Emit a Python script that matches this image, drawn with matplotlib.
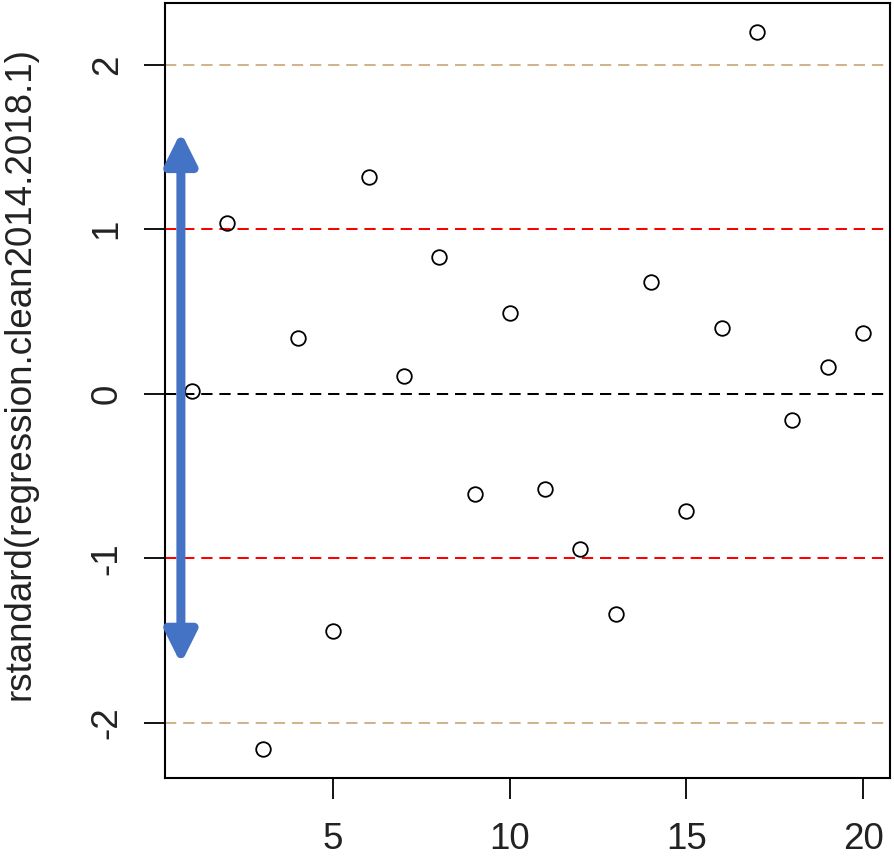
import matplotlib
matplotlib.use("Agg")
import matplotlib.pyplot as plt

index = list(range(1, 21))
rstd = [0.02, 1.04, -2.16, 0.34, -1.44, 1.32, 0.11, 0.83, -0.61, 0.49,
        -0.58, -0.94, -1.34, 0.68, -0.71, 0.40, 2.20, -0.16, 0.16, 0.37]
xticks = [5, 10, 15, 20]
yticks = [-2, -1, 0, 1, 2]
ref_lines = [(2, "tan"), (1, "red"), (0, "black"), (-1, "red"), (-2, "tan")]
arrow_x = 0.69
arrow_y = (-1.64, 1.59)

plt.rcParams['font.family'] = ['Liberation Sans', 'DejaVu Sans']
fig = plt.figure(figsize=(8.94, 8.58), dpi=100)
ax = fig.add_axes([165/894, 80/858, 725/894, 775/858])

for y, c in ref_lines:
    ax.axhline(y, color=c, linestyle=(0, (5.6, 3.4)), linewidth=1.45, zorder=1)

ax.plot(index, rstd, linestyle='none', marker='o', markersize=10.5,
        markerfacecolor='none', markeredgecolor='black', markeredgewidth=1.3, zorder=3)

ax.annotate('', xy=(arrow_x, arrow_y[1]), xytext=(arrow_x, arrow_y[0]),
            arrowprops=dict(arrowstyle='<|-|>,head_length=1.9,head_width=0.95',
                            color='#4472C4', linewidth=6.5, shrinkA=0, shrinkB=0),
            zorder=4)

ymin, ymax = min(rstd), max(rstd)
pad = 0.04 * (ymax - ymin)
ax.set_ylim(ymin - pad, ymax + pad)
ax.set_xlim(1 - 0.04 * 19, 20 + 0.04 * 19)

ax.set_xticks(xticks)
ax.set_yticks(yticks)
ax.set_yticklabels([str(t) for t in yticks], rotation=90, va='center')
ax.tick_params(axis='both', direction='out', length=15, width=1.3,
               labelsize=26.5, colors='black', labelcolor='#222222')
ax.tick_params(axis='x', pad=16.5)
ax.tick_params(axis='y', pad=14)
for s in ax.spines.values():
    s.set_linewidth(1.5)
ax.set_ylabel('rstandard(regression.clean2014.2018.1)', fontsize=26.5,
              color='#222222')
ax.yaxis.set_label_coords((38 - 165) / 725, (778 - 374) / 775)

fig.savefig('out.png', dpi=100)
